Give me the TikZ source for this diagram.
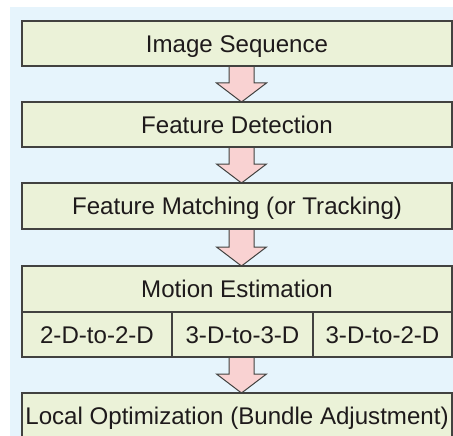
\documentclass[tikz,border=0pt]{standalone}
\usepackage{fontspec}
\setmainfont{Liberation Sans}
\usetikzlibrary{calc}
\pgfdeclarelayer{background}
\pgfsetlayers{background,main}

\definecolor{panelblue}{HTML}{E6F4FC}
\definecolor{boxfill}{HTML}{EBF2D8}
\definecolor{arrowpink}{HTML}{F9D2D2}
\definecolor{edgegray}{HTML}{424240}
\definecolor{inkdark}{HTML}{1E1A1B}

% block arrow pointing down from point #1 to point #2
\newcommand\flowarrow[2]{%
  \draw[arrowbody]
    ($#1+(-8,0)$) -- ($#2+(-8,-19)$) -- ($#2+(-20.5,-19)$) --
    ($#2+(4.5,0)$) -- ($#2+(29.5,-19)$) -- ($#2+(17,-19)$) --
    ($#1+(17,0)$) -- cycle;}

\begin{document}
\begin{tikzpicture}[x=1pt,y=-1pt,
  stage/.style={draw=edgegray, line width=1.9pt, fill=boxfill,
    minimum width=430pt, minimum height=45pt, inner sep=0pt, outer sep=0pt,
    anchor=north west, text=inkdark,
    font=\fontsize{24.1}{29}\selectfont, text height=17.3pt, text depth=0pt},
  arrowbody/.style={draw=edgegray, line width=1pt, fill=arrowpink, line join=miter}]

\useasboundingbox (0,0) rectangle (453,436);

\node[stage] (seq) at (22,21) {Image Sequence};
\node[stage] (det) at (22,102) {Feature Detection};
\node[stage, minimum height=46pt] (match) at (22,183) {Feature Matching (or Tracking)};
\node[stage, minimum height=46pt] (motion) at (22,266) {Motion Estimation};
\node[stage, minimum width=150pt] (m22) at (22,312) {2-D-to-2-D};
\node[stage, minimum width=141pt] (m33) at (172,312) {3-D-to-3-D};
\node[stage, minimum width=139pt] (m32) at (313,312) {3-D-to-2-D};
\node[stage] (ba) at (22,393) {Local Optimization (Bundle Adjustment)};

\begin{pgfonlayer}{background}
  \fill[panelblue] (10,7) rectangle (453,436);
  \flowarrow{(seq.south)}{(det.north)}
  \flowarrow{(det.south)}{(match.north)}
  \flowarrow{(match.south)}{(motion.north)}
  \flowarrow{(motion.south |- m33.south)}{(ba.north)}
\end{pgfonlayer}
\end{tikzpicture}
\end{document}
